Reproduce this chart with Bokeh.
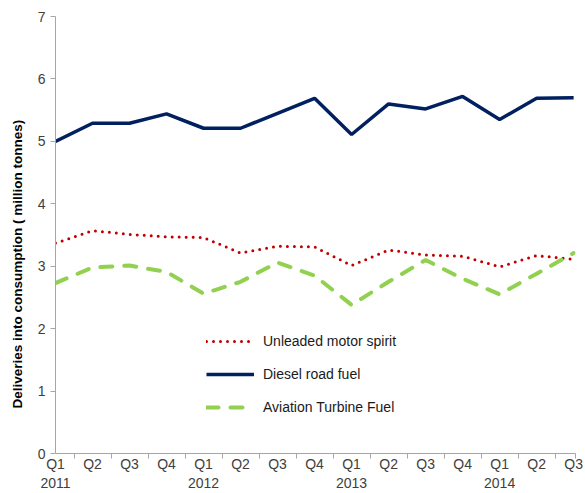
from bokeh.plotting import figure
from bokeh.models import Range1d, FixedTicker, Legend, LegendItem, Title
from bokeh.embed import file_html
from bokeh.resources import INLINE

quarters = ["Q1", "Q2", "Q3", "Q4", "Q1", "Q2", "Q3", "Q4", "Q1", "Q2", "Q3", "Q4", "Q1", "Q2", "Q3"]
years = ["2011", "", "", "", "2012", "", "", "", "2013", "", "", "", "2014", "", ""]

unleaded = [3.37, 3.57, 3.51, 3.47, 3.46, 3.21, 3.32, 3.31, 3.01, 3.26, 3.18, 3.16, 2.99, 3.17, 3.11]
diesel = [5.00, 5.29, 5.29, 5.44, 5.21, 5.21, 5.45, 5.69, 5.11, 5.60, 5.52, 5.72, 5.35, 5.69, 5.70]
aviation = [2.73, 2.98, 3.01, 2.91, 2.56, 2.75, 3.06, 2.85, 2.38, 2.75, 3.10, 2.80, 2.55, 2.88, 3.21]

series_names = ["Unleaded motor spirit", "Diesel road fuel", "Aviation Turbine Fuel"]
y_title = "Deliveries into consumption ( million tonnes)"

x = list(range(len(quarters)))

p = figure(width=585, height=493, output_backend="svg", toolbar_location=None,
           x_range=Range1d(0, 14.05), y_range=Range1d(0, 7))
p.min_border_left = 54
p.min_border_right = 10
p.min_border_top = 16
p.min_border_bottom = 40
p.outline_line_color = None
p.xgrid.grid_line_color = None
p.ygrid.grid_line_color = None

axis_col = "#a6a6a6"
lab_col = "#404040"
font = "Liberation Sans"

# x axis
xa = p.xaxis[0]
xa.ticker = FixedTicker(ticks=x, minor_ticks=[i + 0.5 for i in range(14)] + [14.05])
xa.major_label_overrides = {i: (q + ("\n" + y if y else "")) for i, (q, y) in enumerate(zip(quarters, years))}
xa.major_tick_line_color = None
xa.major_tick_out = 0
xa.major_tick_in = 0
xa.minor_tick_line_color = axis_col
xa.minor_tick_out = 5
xa.minor_tick_in = 0
xa.axis_line_color = axis_col
xa.major_label_text_font = font
xa.major_label_text_font_size = "14px"
xa.major_label_text_color = lab_col
xa.major_label_standoff = -3

# y axis
ya = p.yaxis[0]
ya.ticker = FixedTicker(ticks=list(range(8)), minor_ticks=[])
ya.major_tick_line_color = axis_col
ya.major_tick_out = 5
ya.major_tick_in = 0
ya.axis_line_color = axis_col
ya.major_label_text_font = font
ya.major_label_text_font_size = "14px"
ya.major_label_text_color = lab_col
ya.major_label_standoff = 5

ytitle = Title(text=y_title, align="left", offset=45, vertical_align="middle",
               text_font=font, text_font_size="13.5px", text_font_style="bold",
               text_color="#000000", standoff=17)
p.add_layout(ytitle, "left")

r_unl = p.line(x, unleaded, line_color="#c00000", line_width=3, line_dash="0 7", line_cap="round")
r_dsl = p.line(x, diesel, line_color="#002060", line_width=3.5)
r_av = p.line(x, aviation, line_color="#92d050", line_width=4, line_dash="12 12", line_cap="round")

legend = Legend(items=[LegendItem(label=series_names[0], renderers=[r_unl]),
                       LegendItem(label=series_names[1], renderers=[r_dsl]),
                       LegendItem(label=series_names[2], renderers=[r_av])],
                location=(151, 36))
legend.background_fill_alpha = 0
legend.border_line_color = None
legend.padding = 5
legend.margin = 0
legend.glyph_width = 48
legend.glyph_height = 20
legend.label_height = 20
legend.spacing = 13
legend.label_standoff = 9
legend.label_text_font = font
legend.label_text_font_size = "14px"
legend.label_text_color = "#1a1a1a"
p.add_layout(legend, "center")

open("out.html", "w").write(file_html(p, INLINE))
